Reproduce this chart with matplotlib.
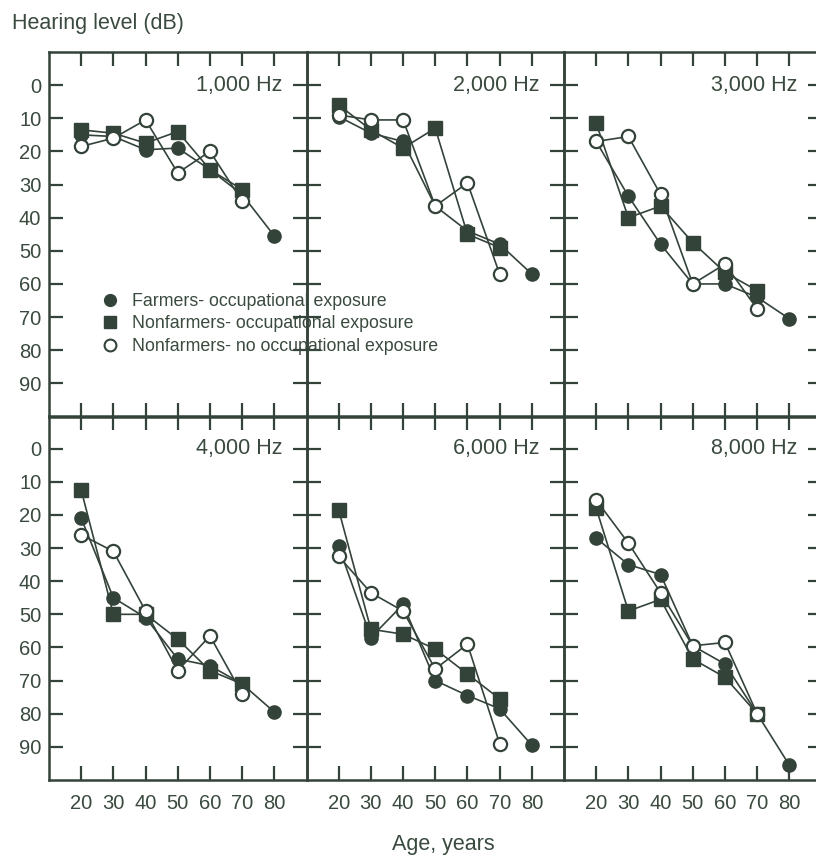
import matplotlib
matplotlib.use("Agg")
import matplotlib.pyplot as plt
from matplotlib.lines import Line2D

plt.rcParams['font.family'] = ['Liberation Sans', 'DejaVu Sans']

ink = '#34433a'
txt = '#3a4a3e'

ages = [20, 30, 40, 50, 60, 70, 80]
ages_nf = [20, 30, 40, 50, 60, 70]
panels = ['1,000 Hz', '2,000 Hz', '3,000 Hz', '4,000 Hz', '6,000 Hz', '8,000 Hz']

# hearing level (dB)
farmers_occ = [
    [15, 15.5, 19.5, 19, 25.5, 33, 45.5],
    [9.5, 14.5, 17, 36.5, 44, 48, 57],
    [17, 33.5, 48, 60, 60, 64, 70.5],
    [21, 45, 51, 63.5, 65.5, 71, 79.5],
    [29.5, 57, 47, 70, 74.5, 78.5, 89.5],
    [27, 35, 38, 59.5, 65, 80, 95.5],
]
nonfarmers_occ = [
    [13.5, 14.5, 17.5, 14, 25.5, 31.5],
    [6, 13.5, 19, 13, 45, 49],
    [11.5, 40, 36.5, 47.5, 56.5, 62],
    [12.5, 50, 50, 57.5, 67, 71],
    [18.5, 54.5, 56, 60.5, 68, 75.5],
    [18, 49, 45.5, 63.5, 69, 80],
]
nonfarmers_none = [
    [18.5, 16, 10.5, 26.5, 20, 35],
    [9, 10.5, 10.5, 36.5, 29.5, 57],
    [17, 15.5, 33, 60, 54, 67.5],
    [26, 31, 49, 67, 56.5, 74],
    [32.5, 43.5, 49, 66.5, 59, 89],
    [15.5, 28.5, 43.5, 59.5, 58.5, 80],
]

W, H = 816, 857
fig = plt.figure(figsize=(W / 100, H / 100), dpi=100)

pw = 257.5
lefts = [49, 306.5, 564]
tops = [52, 415.5]
ph = 364.5

for i in range(6):
    r, c = divmod(i, 3)
    ax = fig.add_axes([lefts[c] / W, 1 - (tops[r] + ph) / H, pw / W, ph / H])
    ax.set_facecolor('none')

    ax.plot(ages, farmers_occ[i], '-o', color=ink, lw=1.2, ms=9.5,
            mfc=ink, mec=ink, zorder=3)
    ax.plot(ages_nf, nonfarmers_occ[i], '-s', color=ink, lw=1.2, ms=9.5,
            mfc=ink, mec=ink, zorder=4)
    ax.plot(ages_nf, nonfarmers_none[i], '-o', color=ink, lw=1.2, ms=9.5,
            mfc='white', mec=ink, mew=1.6, zorder=5)

    ax.set_xlim(10, 90)
    ax.set_ylim(100, -10)
    ax.set_xticks(ages)
    ax.set_yticks(range(0, 100, 10))
    ax.tick_params(direction='in', length=10, width=1.6, color=ink,
                   top=True, right=True, labelsize=14.5, labelcolor=txt)
    ax.tick_params(axis='y', pad=5.5)
    ax.tick_params(axis='x', pad=10)
    for s in ax.spines.values():
        s.set_color(ink)
        s.set_linewidth(1.8)
    if c != 0:
        ax.tick_params(labelleft=False)
    if r == 0:
        ax.tick_params(labelbottom=False)

    ax.text(0.905, 0.909, panels[i], transform=ax.transAxes, ha='right',
            va='center', fontsize=15.5, color=txt)

handles = [
    Line2D([], [], ls='none', marker='o', ms=8.5, mfc=ink, mec=ink),
    Line2D([], [], ls='none', marker='s', ms=8.5, mfc=ink, mec=ink),
    Line2D([], [], ls='none', marker='o', ms=8.5, mfc='white', mec=ink, mew=1.5),
]
labels = ['Farmers- occupational exposure',
          'Nonfarmers- occupational exposure',
          'Nonfarmers- no occupational exposure']
leg = fig.legend(handles, labels, loc='upper left',
                 bbox_to_anchor=(101 / W, 1 - 293 / H), frameon=False,
                 fontsize=12.75, handlelength=1.0, handletextpad=0.75,
                 labelspacing=0.31, borderpad=0, borderaxespad=0)
for t in leg.get_texts():
    t.set_color(txt)

fig.text(12 / W, 1 - 23 / H, 'Hearing level (dB)', ha='left', va='center',
         fontsize=15.5, color=txt)
fig.text(443 / W, 2 / H, 'Age, years', ha='center', va='bottom',
         fontsize=15.5, color=txt)

fig.savefig('out.png', dpi=100)
